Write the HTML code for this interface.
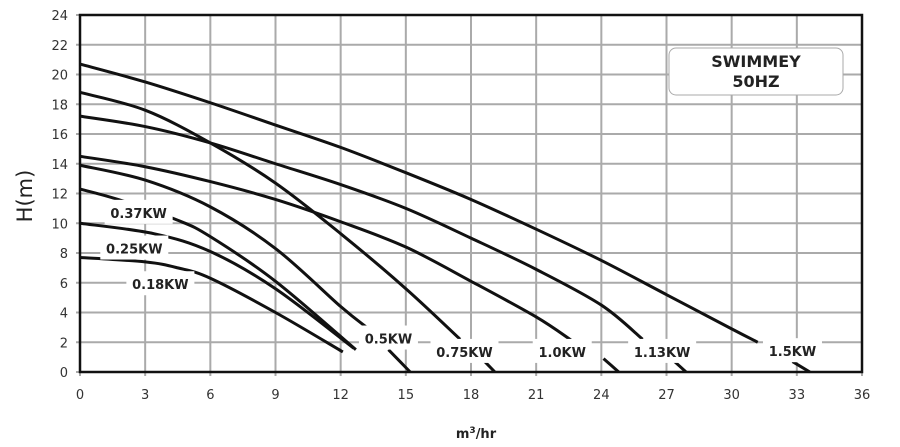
<!DOCTYPE html>
<html><head><meta charset="utf-8"><style>
body{margin:0;background:#fff;width:900px;height:447px;overflow:hidden}
svg{display:block;font-family:"DejaVu Sans","Liberation Sans",sans-serif}
</style></head><body>
<svg id="c" width="900" height="447">
<g id="grid"></g>
<g id="curves"></g>
<g id="labels"></g>
<g id="axes"></g>
<g>
<rect x="669" y="48" width="174" height="47" rx="7" fill="#fff" stroke="#aaa" stroke-width="1"/>
<text x="756" y="67" text-anchor="middle" font-size="16" font-weight="bold" fill="#222">SWIMMEY</text>
<text x="756" y="87" text-anchor="middle" font-size="16" font-weight="bold" fill="#222">50HZ</text>
</g>
<text x="32" y="196" font-size="21" fill="#222" text-anchor="middle" transform="rotate(-90 32 196)">H(m)</text>
<text x="476" y="438" font-size="13" font-weight="bold" fill="#222" text-anchor="middle">m<tspan dy="-5" font-size="9">3</tspan><tspan dy="5">/hr</tspan></text>
</svg>
<script>
const xTicks=[0,3,6,9,12,15,18,21,24,27,30,33,36];
const yTicks=[0,2,4,6,8,10,12,14,16,18,20,22,24];
const seriesNames=["0.18KW","0.25KW","0.37KW","0.5KW","0.75KW","1.0KW","1.13KW","1.5KW"];
const q018=[0,3,4.5,6,9,12.1];
const h018=[7.7,7.4,7.0,6.3,4.0,1.35];
const q025=[0,3.4,6,9,12.6];
const h025=[10.0,9.3,8.1,5.6,1.6];
const q037=[0,1.75,4.5,6,9,12.7];
const h037=[12.3,11.6,10.2,9.1,6.1,1.5];
const q050=[0,3,6,9,12,13.2];
const h050=[13.9,12.9,11.1,8.3,4.4,3.0];
const q075=[0,3,6,9,12,15,17.5];
const h075=[18.8,17.6,15.4,12.7,9.3,5.6,2.2];
const q100=[0,3,6,9,12,15,18,21,22.6];
const h100=[14.5,13.8,12.8,11.6,10.1,8.4,6.1,3.7,2.15];
const q113=[0,3,6,9,12,15,18,21,24,25.9];
const h113=[17.2,16.5,15.4,14.0,12.6,11.0,9.0,6.9,4.5,2.2];
const q150=[0,3,6,9,12,15,18,21,24,27,30,31.2];
const h150=[20.7,19.5,18.1,16.6,15.1,13.4,11.6,9.6,7.5,5.2,2.9,2.0];
const tailQ050=[14.2,15.2];const tailH050=[1.5,0];
const tailQ075=[18.5,19.1];const tailH075=[0.9,0];
const tailQ100=[24.1,24.8];const tailH100=[0.9,0];
const tailQ113=[27.3,27.9];const tailH113=[0.8,0];
const tailQ150=[32.8,33.6];const tailH150=[0.7,0];
const labelQ=[3.7,2.5,2.7,14.2,17.7,22.2,26.8,32.8];
const labelH=[5.9,8.3,10.7,2.25,1.35,1.35,1.35,1.4];

const NS="http://www.w3.org/2000/svg";
const X0=80,X1=862,Y0=372,Y1=15;
const sx=q=>X0+(q/36)*(X1-X0);
const sy=h=>Y0-(h/24)*(Y0-Y1);
function mk(tag,attrs,parent){const e=document.createElementNS(NS,tag);for(const k in attrs)e.setAttribute(k,attrs[k]);parent.appendChild(e);return e;}
const grid=document.getElementById('grid'),axes=document.getElementById('axes'),curves=document.getElementById('curves'),labels=document.getElementById('labels');
xTicks.forEach(t=>{
 const l=mk('line',{x1:sx(t),x2:sx(t),y1:Y1,y2:Y0+4,stroke:'#aaa','stroke-width':2},grid);
 
 
 const tx=mk('text',{x:sx(t),y:Y0+27,'font-size':13,'text-anchor':'middle',fill:'#333'},axes);
 tx.textContent=t;
 
 
});
yTicks.forEach(t=>{
 const l=mk('line',{x1:X0-4,x2:X1,y1:sy(t),y2:sy(t),stroke:'#aaa','stroke-width':2},grid);
 
 
 const tx=mk('text',{x:X0-12,y:sy(t)+5,'font-size':13,'text-anchor':'end',fill:'#333'},axes);
 tx.textContent=t;
 
 
});
const fr=mk('rect',{x:X0,y:Y1,width:X1-X0,height:Y0-Y1,fill:'none',stroke:'#111','stroke-width':2.5},axes);


function pathD(qs,hs){
 const p=qs.map((q,i)=>[sx(q),sy(hs[i])]);
 let d='M'+p[0][0]+','+p[0][1];
 for(let i=0;i<p.length-1;i++){
  const a=p[i-1]||p[i],b=p[i],c=p[i+1],e=p[i+2]||c;
  d+=' C'+(b[0]+(c[0]-a[0])/6)+','+(b[1]+(c[1]-a[1])/6)+' '+(c[0]-(e[0]-b[0])/6)+','+(c[1]-(e[1]-b[1])/6)+' '+c[0]+','+c[1];
 }
 return d;
}
const allQ=[q018,q025,q037,q050,q075,q100,q113,q150];
const allH=[h018,h025,h037,h050,h075,h100,h113,h150];
allQ.forEach((qs,i)=>{
 const p=mk('path',{d:pathD(qs,allH[i]),fill:'none',stroke:'#111','stroke-width':3},curves);
 
 
});
const tQ=[tailQ050,tailQ075,tailQ100,tailQ113,tailQ150];
const tH=[tailH050,tailH075,tailH100,tailH113,tailH150];
tQ.forEach((qs,i)=>{
 const p=mk('path',{d:pathD(qs,tH[i]),fill:'none',stroke:'#111','stroke-width':3},curves);
 
 
});
seriesNames.forEach((n,i)=>{
 const cx=sx(labelQ[i]),cy=sy(labelH[i]);
 const w=n.length*9+14;
 const r=mk('rect',{x:cx-w/2,y:cy-13,width:w,height:24,fill:'#fff'},labels);
 
 
 const t=mk('text',{x:cx,y:cy+5,'font-size':13,'font-weight':'bold','text-anchor':'middle',fill:'#222'},labels);
 t.textContent=n;
 
 
});
</script>
</body></html>
